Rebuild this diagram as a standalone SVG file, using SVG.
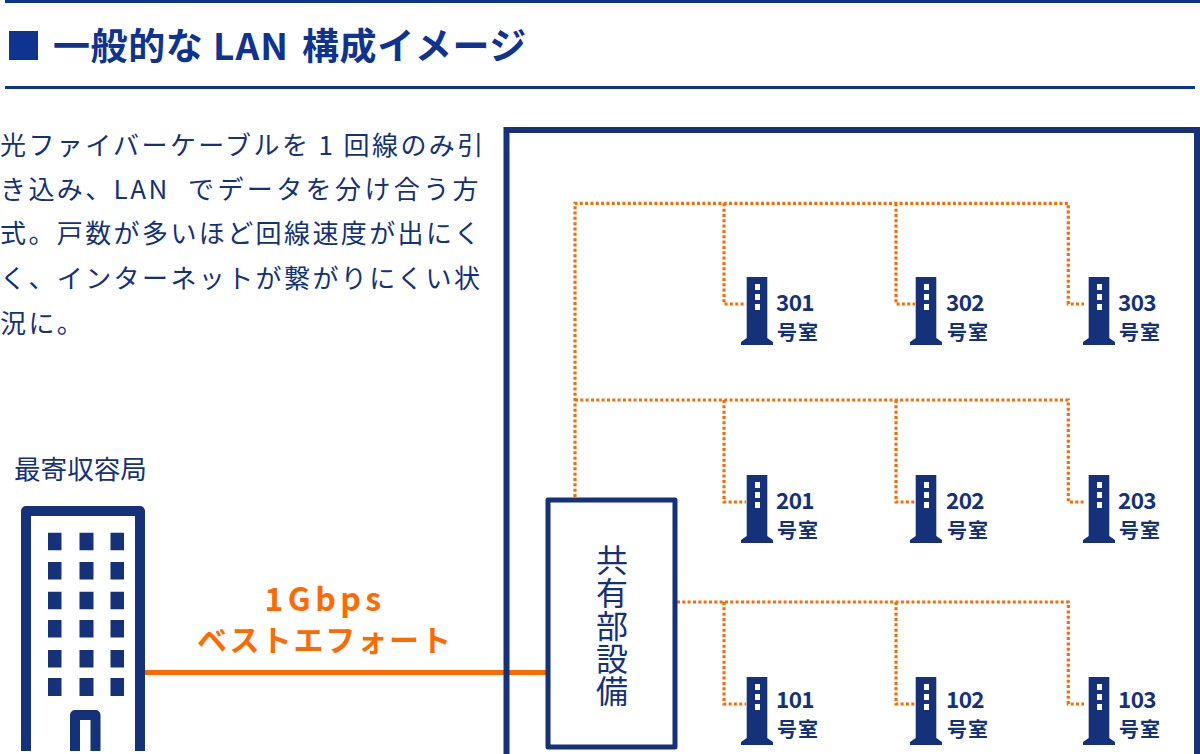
<svg xmlns="http://www.w3.org/2000/svg" width="1200" height="754" viewBox="0 0 1200 754">
<style>
text{font-family:"Noto Sans CJK JP","Noto Sans",sans-serif;fill:#15317a}
.body{font-size:26px;letter-spacing:2.4px}
.num{font-size:22.500px;font-weight:700;letter-spacing:-.6px}
.gou{font-size:20px;font-weight:700;letter-spacing:1px}
.dot{fill:none;stroke:#ff6a00;stroke-width:3.2;stroke-dasharray:3 2.33}
.navy{fill:#15317a}
.hd{fill:#0f3391}
.or{fill:#ff6a00;font-weight:700;text-anchor:middle}
.vert{font-size:32px;writing-mode:vertical-rl;letter-spacing:.8px}
</style>
<defs>
<g id="router">
<path class="navy" d="M746.700 277H767.300V338L773 342V345H741V342L746.700 338Z"/>
<path fill="#fff" d="M755 284h5v6h-5zM755 294h5v6h-5zM755 304h5v6h-5z"/>
</g>
</defs>
<rect width="1200" height="754" fill="#fff"/>
<g id="header">
<rect class="hd" x="5" y="0" width="1195" height="3"/>
<rect class="hd" x="5" y="86" width="1190" height="3"/>
<rect class="hd" x="9" y="31" width="29" height="29"/>
<text class="hd" y="60" font-size="37" font-weight="700" letter-spacing="0.6"><tspan x="53">一般的な</tspan><tspan x="213" letter-spacing="1.200">LAN</tspan><tspan x="302">構成イメージ</tspan></text>
</g>
<g id="description" class="body">
<text x="0" y="155">光ファイバーケーブルを 1 回線のみ引</text>
<text x="0" y="199">き込み、LAN<tspan x="188" letter-spacing="3.4">でデータを分け合う方</tspan></text>
<text x="0" y="243">式。戸数が多いほど回線速度が出にく</text>
<text x="0" y="288">く、インターネットが繋がりにくい状</text>
<text x="0" y="333">況に。</text>
</g>
<g id="connectors">
<path class="dot" d="M575 497V203.300H1068.300V304H1084M724 203.300V304H746M896 203.300V304H915"/>
<path class="dot" d="M575 400H1068.300V502H1084M724 400V502H746M896 400V502H915"/>
<path class="dot" d="M677 602H1068.300V704H1084M724 602V704H746M896 602V704H915"/>
<path d="M145 672.500H546" stroke="#ff6a00" stroke-width="5" fill="none"/>
</g>
<g id="building">
<text x="14" y="479" font-size="26.600">最寄収容局</text>
<path d="M26 751V511H140V751" fill="none" stroke="#15317a" stroke-width="10" stroke-linejoin="round"/>
<path class="navy" d="M48 532.700h13.500v17.500h-13.500zM79.500 532.700h14v17.500h-14zM110.500 532.700h13.500v17.500h-13.500zM48 562h13.500v17.500h-13.500zM79.500 562h14v17.500h-14zM110.500 562h13.500v17.500h-13.500zM48 591.700h13.500v17.500h-13.500zM79.500 591.700h14v17.500h-14zM110.500 591.700h13.500v17.500h-13.500zM48 620h13.500v17.500h-13.500zM79.500 620h14v17.500h-14zM110.500 620h13.500v17.500h-13.500zM48 650h13.500v17.500h-13.500zM79.500 650h14v17.500h-14zM110.500 650h13.500v17.500h-13.500zM48 678h13.500v18h-13.500zM79.500 678h14v18h-14zM110.500 678h13.500v18h-13.500z"/>
<path d="M75 751V715H95.500V751" fill="none" stroke="#15317a" stroke-width="10" stroke-linejoin="round"/>
</g>
<g id="speed-label">
<text class="or" x="325" y="611" font-size="32" letter-spacing="4.500">1Gbps</text>
<text class="or" x="325" y="651" font-size="30" letter-spacing="1.900">ベストエフォート</text>
</g>
<g id="room">
<path d="M506.500 754V130H1197V754" fill="none" stroke="#15317a" stroke-width="6"/>
</g>
<g id="shared-equipment">
<rect x="548" y="500" width="127" height="247" fill="#fff" stroke="#15317a" stroke-width="5" stroke-linejoin="round"/>
<text class="vert" x="612" y="544">共有部設備</text>
</g>
<g id="room-301"><use href="#router"/><text class="num" x="776" y="311">301</text><text class="gou" x="777" y="340">号室</text></g>
<g id="room-302"><use href="#router" x="169"/><text class="num" x="946" y="311">302</text><text class="gou" x="947" y="340">号室</text></g>
<g id="room-303"><use href="#router" x="342"/><text class="num" x="1118" y="311">303</text><text class="gou" x="1119" y="340">号室</text></g>
<g id="room-201"><use href="#router" y="198"/><text class="num" x="776" y="509">201</text><text class="gou" x="777" y="538">号室</text></g>
<g id="room-202"><use href="#router" x="169" y="198"/><text class="num" x="946" y="509">202</text><text class="gou" x="947" y="538">号室</text></g>
<g id="room-203"><use href="#router" x="342" y="198"/><text class="num" x="1118" y="509">203</text><text class="gou" x="1119" y="538">号室</text></g>
<g id="room-101"><use href="#router" y="400"/><text class="num" x="776" y="708">101</text><text class="gou" x="777" y="737">号室</text></g>
<g id="room-102"><use href="#router" x="169" y="400"/><text class="num" x="946" y="708">102</text><text class="gou" x="947" y="737">号室</text></g>
<g id="room-103"><use href="#router" x="342" y="400"/><text class="num" x="1118" y="708">103</text><text class="gou" x="1119" y="737">号室</text></g>
</svg>
